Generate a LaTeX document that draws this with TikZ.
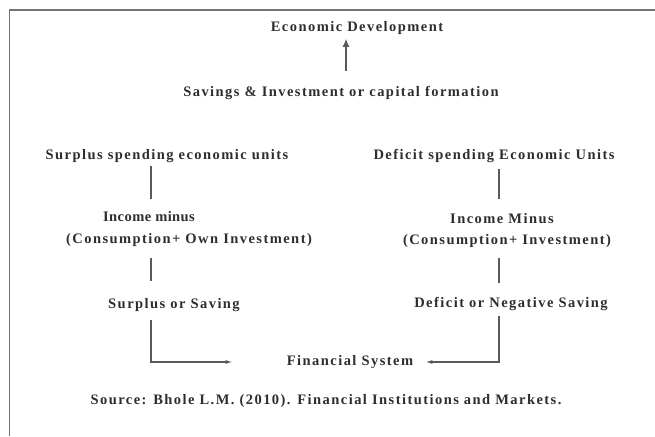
\documentclass[tikz,border=0pt]{standalone}
\usepackage{fontspec}
\setmainfont{Liberation Serif}[LetterSpace=10]
\usepackage{tikz}
\usetikzlibrary{arrows.meta,positioning,calc}
\definecolor{inkgrey}{RGB}{45,45,45}
\definecolor{rulegrey}{RGB}{90,90,90}
\tikzstyle{sector}=[text=inkgrey, font=\bfseries\fontsize{14.5}{17}\selectfont, inner sep=2pt]
\tikzstyle{tight}=[sector, font=\bfseries\fontsize{14.5}{17}\selectfont\addfontfeature{LetterSpace=3}]
\tikzstyle{frame}=[draw, line width=1.6pt, color=rulegrey!85]
\tikzstyle{line}=[draw, line width=1.3pt, color=rulegrey]
\tikzstyle{flow}=[line, -{Latex[length=7pt,width=4pt]}]
\tikzstyle{rise}=[line, -{Latex[length=8pt,width=7pt]}]
\newcommand{\sector}[2]{node (#1)[sector]{#2}}

\begin{document}
\begin{tikzpicture}[x=1pt,y=-1pt]
		\useasboundingbox (0,0) rectangle (655,436);
		\path[frame] (9.5,436) -- (9.5,10) -- (655,10);
		
		% text blocks
		\path (357,28) \sector{econ}{Economic Development};
		\path (341,93) \sector{savings}{Savings \& Investment or capital formation};
		
		\path (167,156) \sector{surplus}{Surplus spending economic units};
		\path (149,217) node (incL)[tight]{Income minus};
		\path (189,240) \sector{consL}{(Consumption+ Own Investment)};
		\path (174,305) \sector{savL}{Surplus or Saving};
		
		\path (494,156) \sector{deficit}{Deficit spending Economic Units};
		\path (502,219) \sector{incR}{Income Minus};
		\path (507,241) \sector{consR}{(Consumption+ Investment)};
		\path (511,304) \sector{savR}{Deficit or Negative Saving};
		
		\path (350,362) \sector{fin}{Financial System};
		\path (326,401) \sector{source}{Source: Bhole L.M. (2010). Financial Institutions and Markets.};
		
		% x positions of the vertical rules
		\coordinate (xA) at (346,0);
		\coordinate (xL) at (151,0);
		\coordinate (xR) at (499,0);
		
		% connectors
		\path [rise, shorten <=13pt, shorten >=2pt] (savings.north -| xA) -- (econ.south -| xA);
		\path [line, shorten <=1pt, shorten >=11pt] (surplus.south -| xL) -- (incL.north -| xL);
		\path [line, shorten <=9pt, shorten >=15pt] (consL.south -| xL) -- (savL.north -| xL);
		\path [line, shorten <=4pt, shorten >=13pt] (deficit.south -| xR) -- (incR.north -| xR);
		\path [line, shorten <=8pt, shorten >=12pt] (consR.south -| xR) -- (savR.north -| xR);
		\path [flow, shorten <=6pt, shorten >=52pt] (savL.south -| xL) |- (fin.west);
		\path [flow, shorten <=3pt, shorten >=10pt] (savR.south -| xR) |- (fin.east);
\end{tikzpicture}
\end{document}
